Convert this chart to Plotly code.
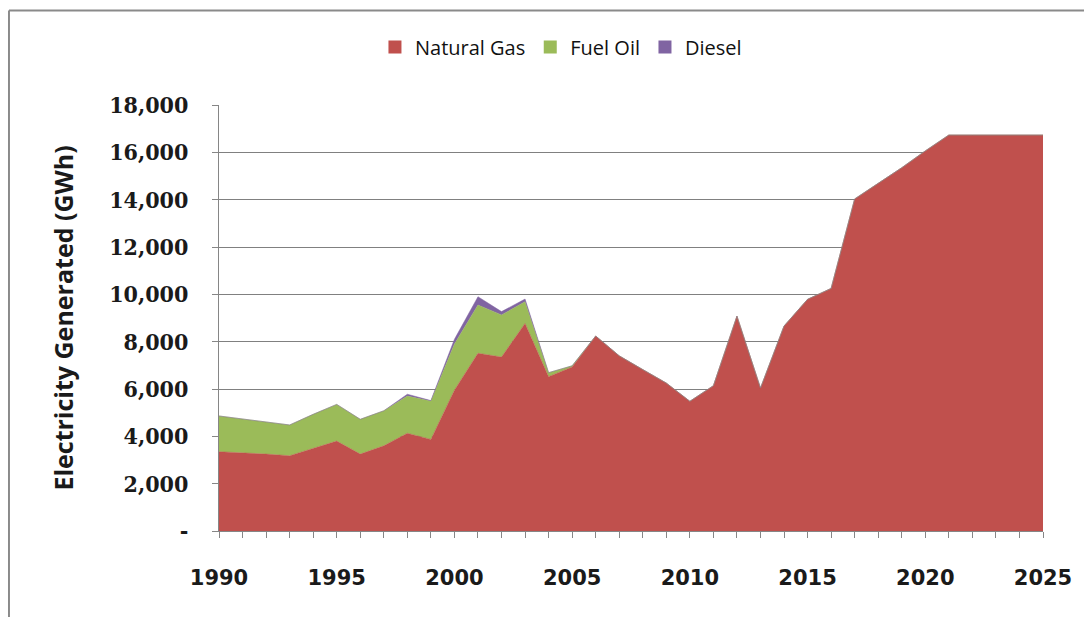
import plotly.graph_objects as go

years = list(range(1990, 2026))

natural_gas = [3350, 3310, 3250, 3180, 3490, 3800, 3250, 3600, 4130, 3870,
               5950, 7510, 7350, 8770, 6520, 6930, 8240, 7400, 6820, 6250,
               5480, 6140, 9080, 6040, 8660, 9790, 10250, 14030, 14690, 15350,
               16060, 16730, 16730, 16730, 16730, 16730]
fuel_oil = [1510, 1420, 1370, 1300, 1440, 1550, 1470, 1480, 1570, 1620,
            1950, 2040, 1780, 920, 170, 50] + [0] * 20
diesel = [0, 0, 0, 0, 0, 0, 0, 0, 80, 20,
          200, 350, 140, 110, 0, 0] + [0] * 20

series_names = ["Natural Gas", "Fuel Oil", "Diesel"]
series_colors = ["#C0504D", "#9BBB59", "#8064A2"]

y_tickvals = list(range(0, 18001, 2000))
y_ticktext = ["-"] + ["{:,}".format(v) for v in y_tickvals[1:]]

fig = go.Figure()
for name, vals, col in zip(series_names, [natural_gas, fuel_oil, diesel], series_colors):
    fig.add_trace(go.Scatter(x=years, y=vals, name=name, mode="lines",
                             stackgroup="one", line=dict(color=col, width=0.5),
                             fillcolor=col, showlegend=False, hoverinfo="x+y+name"))
    # legend entry with a square swatch
    fig.add_trace(go.Scatter(x=[None], y=[None], name=name, mode="markers",
                             marker=dict(symbol="square", size=13, color=col)))

# the page puts the plot 8px in from the top-left corner, so the figure is 8px smaller
fig.update_layout(
    width=1084, height=609,
    margin=dict(l=211, r=49, t=97, b=86),
    paper_bgcolor="white", plot_bgcolor="white",
    showlegend=True,
    legend=dict(orientation="h", x=0.415, y=1.136, xanchor="center", yanchor="middle",
                traceorder="normal",
                font=dict(family="Open Sans", size=20, color="#111111"),
                itemwidth=30, tracegroupgap=0),
    xaxis=dict(range=[1990, 2025], tickmode="linear", tick0=1990, dtick=5,
               ticks="outside", ticklen=6, tickcolor="#868686",
               minor=dict(dtick=1, ticks="outside", ticklen=6, tickcolor="#868686"),
               showline=True, linecolor="#868686", linewidth=1, showgrid=False,
               zeroline=False, ticklabelstandoff=22,
               tickfont=dict(family="DejaVu Sans", size=21, color="#1a1a1a", weight="bold")),
    yaxis=dict(range=[0, 18000], tickvals=y_tickvals, ticktext=y_ticktext,
               ticks="outside", ticklen=6, tickcolor="#868686",
               showline=True, linecolor="#868686", linewidth=1,
               showgrid=True, gridcolor="#808080", gridwidth=1, zeroline=False,
               ticklabelstandoff=19, automargin=False,
               tickfont=dict(family="DejaVu Serif Condensed, DejaVu Serif", size=23,
                             color="#1a1a1a", weight="bold"),
               title=dict(text="Electricity Generated (GWh)", standoff=28,
                          font=dict(family="Open Sans", size=25, color="#1a1a1a", weight="bold"))),
    shapes=[
        dict(type="line", xref="paper", yref="paper", x0=-0.2549, x1=1.1, y0=1.222, y1=1.222,
             line=dict(color="#8a8a8a", width=2)),
        dict(type="line", xref="paper", yref="paper", x0=-0.2549, x1=-0.2549, y0=1.222, y1=-0.3,
             line=dict(color="#8a8a8a", width=2)),
    ],
)

fig.write_html("out.html")
